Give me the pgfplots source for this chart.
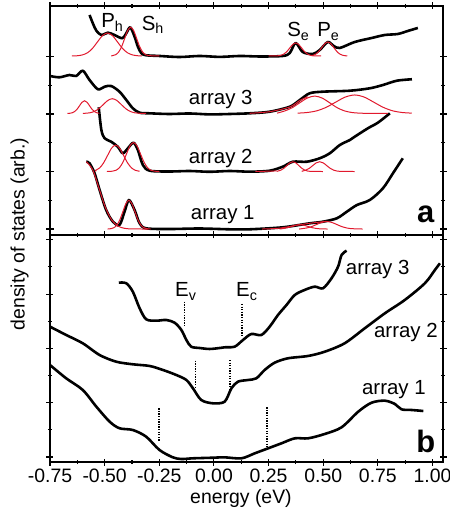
\documentclass[border=0pt]{standalone}
\usepackage{pgfplots}
\pgfplotsset{compat=1.18}
\usepackage{fontspec}
\setmainfont{Liberation Sans}
\definecolor{fitred}{RGB}{225,25,45}

\pgfplotsset{
  panel/.style={
    scale only axis, width=393bp,
    xmin=-0.75, xmax=1.048,
    xtick={-0.75,-0.5,-0.25,0,0.25,0.5,0.75,1.0},
    minor x tick num=1, minor y tick num=1,
    yticklabels={},
    tick align=center,
    major tick length=7bp, minor tick length=4bp,
    every tick/.style={black, line width=1.1pt},
    axis line style={line width=1.3pt},
    tick label style={font=\fontsize{19.5}{23}\selectfont},
    xticklabel style={/pgf/number format/fixed, /pgf/number format/fixed zerofill,
      /pgf/number format/precision=2, /pgf/number format/assume math mode=true},
  },
  dos/.style={black, line width=2.6pt, smooth, no markers, line join=round},
  fit/.style={fitred, line width=1pt, smooth, no markers},
  lev/.style={black, line width=1.7pt, dash pattern=on 1.3pt off 1.3pt, no markers},
}
\newcommand{\lbl}{\fontsize{20.5}{24}\selectfont}
\newcommand{\panelfont}{\fontsize{31}{35}\selectfont\bfseries}

\begin{document}
\begin{tikzpicture}
% ---------------- panel b (bottom)
\begin{axis}[panel, at={(0,0)}, anchor=south west, height=227bp,
  ymin=-0.092, ymax=4.088, ytick={0,1,2,3,4},
  xlabel={energy (eV)}, ylabel={density of states (arb.)},
  label style={font=\fontsize{19.5}{23}\selectfont},
  xlabel style={anchor=center, at={(axis description cs:0.486,-0.159)}},
  ylabel style={anchor=center, at={(axis description cs:-0.0776,1.004)}},
]
% array 3
\addplot[dos] coordinates {(-0.435,3.210) (-0.401,3.199) (-0.371,3.044) (-0.340,2.739) (-0.310,2.536)
  (-0.264,2.510) (-0.218,2.523) (-0.180,2.473) (-0.149,2.339) (-0.126,2.155) (-0.104,2.031)
  (-0.065,2.007) (-0.020,1.989) (0.026,2.007) (0.049,2.020) (0.095,2.032) (0.133,2.155)
  (0.171,2.265) (0.217,2.247) (0.255,2.400) (0.293,2.615) (0.332,2.799) (0.370,2.984)
  (0.415,3.076) (0.461,3.137) (0.499,3.107) (0.538,3.291) (0.568,3.505) (0.584,3.720) (0.607,3.799)};
% array 2
\addplot[dos] coordinates {(-0.75,2.400) (-0.676,2.247) (-0.600,2.094) (-0.523,1.878) (-0.447,1.755)
  (-0.371,1.707) (-0.294,1.676) (-0.233,1.602) (-0.172,1.510) (-0.126,1.418) (-0.096,1.265)
  (-0.058,1.050) (-0.005,0.989) (0.049,1.019) (0.080,1.265) (0.110,1.387) (0.156,1.418)
  (0.194,1.449) (0.232,1.602) (0.278,1.737) (0.339,1.818) (0.430,1.860) (0.507,1.939)
  (0.598,2.094) (0.690,2.370) (0.782,2.646) (0.873,2.891) (0.965,3.199) (1.011,3.444) (1.034,3.567)};
% array 1
\addplot[dos] coordinates {(-0.75,1.694) (-0.676,1.449) (-0.600,1.234) (-0.538,0.927) (-0.477,0.650)
  (-0.432,0.529) (-0.371,0.497) (-0.310,0.374) (-0.249,0.129) (-0.188,-0.006) (-0.149,-0.037)
  (-0.096,-0.024) (-0.005,-0.013) (0.049,-0.006) (0.126,-0.024) (0.187,0.068) (0.248,0.160)
  (0.309,0.252) (0.370,0.344) (0.431,0.344) (0.507,0.424) (0.584,0.547) (0.660,0.834)
  (0.721,1.000) (0.782,1.037) (0.828,0.976) (0.858,0.878) (0.904,0.866) (0.958,0.847)};
% band edges
\addplot[lev] coordinates {(-0.134,2.860) (-0.134,2.400)};
\addplot[lev] coordinates {(0.128,2.818) (0.128,2.204)};
\addplot[lev] coordinates {(-0.085,1.774) (-0.085,1.265)};
\addplot[lev] coordinates {(0.075,1.786) (0.075,1.234)};
\addplot[lev] coordinates {(-0.252,0.897) (-0.252,0.282)};
\addplot[lev] coordinates {(0.243,0.916) (0.243,0.129)};
\node[anchor=base west, inner sep=0pt, font=\lbl] at (axis cs:-0.178,2.947) {E\textsubscript{v}};
\node[anchor=base west, inner sep=0pt, font=\lbl] at (axis cs:0.101,2.947) {E\textsubscript{c}};
\node[anchor=west, inner sep=0pt, font=\lbl] at (axis cs:0.603,3.46) {array 3};
\node[anchor=west, inner sep=0pt, font=\lbl] at (axis cs:0.732,2.29) {array 2};
\node[anchor=west, inner sep=0pt, font=\lbl] at (axis cs:0.677,1.25) {array 1};
\node[anchor=base, inner sep=0pt, font=\panelfont] at (axis cs:0.969,0.092) {b};
\end{axis}

% ---------------- panel a (top)
\begin{axis}[panel, at={(0,227bp)}, anchor=south west, height=229bp,
  ymin=-0.104, ymax=3.878, ytick={0,1,2,3}, xticklabels={},
]
% top spectrum
\addplot[dos] coordinates {(-0.569,3.722) (-0.554,3.577) (-0.538,3.449) (-0.515,3.374) (-0.485,3.414)
  (-0.455,3.374) (-0.419,3.317) (-0.401,3.404) (-0.383,3.508) (-0.363,3.344) (-0.348,3.171)
  (-0.332,3.056) (-0.310,3.021) (-0.249,3.009) (-0.157,2.991) (-0.066,3.009) (0.026,2.993)
  (0.118,3.009) (0.209,3.0) (0.315,3.009) (0.347,3.061) (0.374,3.235) (0.406,3.078)
  (0.452,3.043) (0.484,3.113) (0.521,3.252) (0.548,3.183) (0.576,3.148) (0.644,3.252)
  (0.722,3.322) (0.782,3.374) (0.841,3.391) (0.887,3.444) (0.933,3.496)};
% array 3
\addplot[dos] coordinates {(-0.75,2.661) (-0.707,2.638) (-0.661,2.678) (-0.630,2.661) (-0.600,2.753)
  (-0.569,2.591) (-0.531,2.430) (-0.500,2.475) (-0.470,2.487) (-0.432,2.388) (-0.401,2.244)
  (-0.371,2.099) (-0.340,2.023) (-0.294,2.012) (-0.203,2.0) (-0.111,2.009) (-0.020,1.993)
  (0.072,2.0) (0.163,2.012) (0.255,2.040) (0.347,2.127) (0.393,2.244) (0.438,2.360)
  (0.498,2.388) (0.622,2.405) (0.713,2.447) (0.773,2.504) (0.837,2.579) (0.906,2.604)};
% array 2
\addplot[dos] coordinates {(-0.527,2.117) (-0.515,1.722) (-0.500,1.577) (-0.470,1.518) (-0.440,1.431)
  (-0.417,1.317) (-0.394,1.403) (-0.368,1.501) (-0.348,1.374) (-0.325,1.113) (-0.294,1.014)
  (-0.203,1.0) (-0.111,1.009) (-0.020,0.995) (0.072,1.009) (0.163,0.997) (0.255,1.014)
  (0.315,1.084) (0.361,1.170) (0.425,1.170) (0.484,1.230) (0.530,1.317) (0.576,1.461)
  (0.622,1.548) (0.644,1.605) (0.704,1.751) (0.750,1.849) (0.805,2.012)};
% array 1
\addplot[dos] coordinates {(-0.584,1.171) (-0.569,1.143) (-0.546,0.969) (-0.523,0.678) (-0.493,0.330)
  (-0.462,0.127) (-0.432,0.070) (-0.409,0.301) (-0.389,0.504) (-0.363,0.330) (-0.340,0.099)
  (-0.310,0.012) (-0.203,0.0) (-0.066,0.009) (0.072,-0.005) (0.163,-0.005) (0.315,0.030)
  (0.438,0.099) (0.498,0.127) (0.562,0.186) (0.608,0.301) (0.654,0.417) (0.713,0.504)
  (0.773,0.707) (0.819,0.969) (0.864,1.230)};

% fitted peaks, top spectrum
\addplot[fit] coordinates {(-0.65,3.009) (-0.625,3.013) (-0.602,3.027) (-0.579,3.063) (-0.556,3.139)
  (-0.533,3.252) (-0.510,3.362) (-0.487,3.409) (-0.464,3.362) (-0.441,3.252) (-0.418,3.139)
  (-0.395,3.063) (-0.372,3.027) (-0.349,3.013) (-0.33,3.009)};
\addplot[fit] coordinates {(-0.47,3.009) (-0.4635,3.015) (-0.4498,3.031) (-0.436,3.077) (-0.4223,3.171)
  (-0.4085,3.312) (-0.3948,3.450) (-0.381,3.509) (-0.3673,3.450) (-0.3535,3.312) (-0.3398,3.171)
  (-0.326,3.077) (-0.3123,3.031) (-0.2985,3.015) (-0.25,3.009)};
\addplot[fit] coordinates {(0.25,3.009) (0.2915,3.012) (0.3053,3.019) (0.319,3.040) (0.3328,3.082)
  (0.3465,3.146) (0.3603,3.208) (0.374,3.235) (0.3878,3.208) (0.4015,3.146) (0.4153,3.082)
  (0.429,3.040) (0.4428,3.019) (0.4565,3.012) (0.49,3.009)};
\addplot[fit] coordinates {(0.45,3.009) (0.4523,3.020) (0.466,3.042) (0.4798,3.088) (0.4935,3.156)
  (0.5073,3.223) (0.521,3.252) (0.5348,3.223) (0.5485,3.156) (0.5623,3.088) (0.576,3.042)
  (0.5898,3.020) (0.6035,3.012) (0.61,3.009)};
% fitted peaks, array 3
\addplot[fit] coordinates {(-0.67,2.01) (-0.661,2.012) (-0.6495,2.020) (-0.638,2.040) (-0.6265,2.081)
  (-0.615,2.143) (-0.6035,2.204) (-0.592,2.23) (-0.5805,2.204) (-0.569,2.143) (-0.5575,2.081)
  (-0.546,2.040) (-0.5345,2.020) (-0.524,2.012)};
\addplot[fit] coordinates {(-0.60,2.01) (-0.588,2.013) (-0.5675,2.021) (-0.547,2.045) (-0.5265,2.093)
  (-0.506,2.165) (-0.4855,2.236) (-0.465,2.266) (-0.4445,2.236) (-0.424,2.165) (-0.4035,2.093)
  (-0.383,2.045) (-0.3625,2.021) (-0.342,2.013) (-0.31,2.01)};
\addplot[fit] coordinates {(0.163,2.012) (0.255,2.040) (0.347,2.122) (0.393,2.235) (0.429,2.300)};
\addplot[fit] coordinates {(0.289,2.015) (0.324,2.053) (0.358,2.109) (0.392,2.194) (0.427,2.277)
  (0.461,2.312) (0.495,2.277) (0.530,2.194) (0.564,2.109) (0.598,2.053) (0.633,2.025)
  (0.667,2.015) (0.70,2.012) (0.796,2.012)};
\addplot[fit] coordinates {(0.383,2.015) (0.4265,2.026) (0.470,2.055) (0.5135,2.116) (0.557,2.206)
  (0.6005,2.294) (0.644,2.331) (0.6875,2.294) (0.731,2.206) (0.7745,2.116) (0.818,2.055)
  (0.8615,2.026) (0.905,2.015)};
% fitted peaks, array 2
\addplot[fit] coordinates {(-0.54,1.0) (-0.5415,1.020) (-0.523,1.062) (-0.505,1.149) (-0.4866,1.279)
  (-0.4683,1.406) (-0.450,1.46) (-0.4317,1.406) (-0.4134,1.279) (-0.395,1.149) (-0.3768,1.062)
  (-0.3585,1.020) (-0.34,1.005)};
\addplot[fit] coordinates {(-0.49,1.0) (-0.464,1.006) (-0.448,1.022) (-0.432,1.068) (-0.416,1.164)
  (-0.400,1.306) (-0.384,1.446) (-0.368,1.505) (-0.352,1.446) (-0.336,1.306) (-0.320,1.164)
  (-0.304,1.068) (-0.288,1.022) (-0.272,1.006) (-0.25,1.0)};
\addplot[fit] coordinates {(0.19,1.0) (0.24,1.005) (0.287,1.010)};
\addplot[fit] coordinates {(0.287,1.0) (0.2923,1.007) (0.306,1.023) (0.3198,1.055) (0.3335,1.103)
  (0.3473,1.150) (0.361,1.17) (0.3748,1.15) (0.3885,1.103) (0.4023,1.055) (0.416,1.023)
  (0.4298,1.007) (0.4435,1.002) (0.498,1.0)};
\addplot[fit] coordinates {(0.402,1.0) (0.404,1.007) (0.42,1.023) (0.436,1.055) (0.452,1.103)
  (0.468,1.150) (0.484,1.17) (0.5,1.15) (0.516,1.103) (0.532,1.055) (0.548,1.023)
  (0.564,1.007) (0.58,1.002) (0.644,1.0)};
% fitted peaks, array 1
\addplot[fit] coordinates {(-0.584,1.17) (-0.555,1.033) (-0.526,0.710) (-0.497,0.380) (-0.468,0.158)
  (-0.439,0.051) (-0.41,0.013) (-0.38,0.002) (-0.30,0.0)};
\addplot[fit] coordinates {(-0.486,0.0) (-0.4715,0.006) (-0.4578,0.022) (-0.444,0.068) (-0.4303,0.162)
  (-0.4165,0.303) (-0.4028,0.441) (-0.389,0.50) (-0.3753,0.441) (-0.3615,0.303) (-0.3478,0.162)
  (-0.334,0.068) (-0.3203,0.022) (-0.3065,0.006) (-0.29,0.0)};
\addplot[fit] coordinates {(0.22,0.0) (0.30,0.015) (0.393,0.075) (0.45,0.105) (0.516,0.135)};
\addplot[fit] coordinates {(0.30,0.0) (0.319,0.010) (0.3375,0.024) (0.356,0.045) (0.3745,0.066)
  (0.393,0.075) (0.4115,0.066) (0.43,0.045) (0.4485,0.024) (0.467,0.010) (0.4855,0.003) (0.52,0.0)};
\addplot[fit] coordinates {(0.39,0.0) (0.424,0.018) (0.447,0.042) (0.47,0.079) (0.493,0.115)
  (0.516,0.13) (0.539,0.115) (0.562,0.079) (0.585,0.042) (0.608,0.018) (0.631,0.006) (0.68,0.0)};

\node[anchor=base west, inner sep=0pt, font=\lbl] at (axis cs:-0.516,3.496) {P\textsubscript{h}};
\node[anchor=base west, inner sep=0pt, font=\lbl] at (axis cs:-0.331,3.46) {S\textsubscript{h}};
\node[anchor=base west, inner sep=0pt, font=\lbl] at (axis cs:0.335,3.34) {S\textsubscript{e}};
\node[anchor=base west, inner sep=0pt, font=\lbl] at (axis cs:0.472,3.34) {P\textsubscript{e}};
\node[anchor=west, inner sep=0pt, font=\lbl] at (axis cs:-0.115,2.244) {array 3};
\node[anchor=west, inner sep=0pt, font=\lbl] at (axis cs:-0.115,1.23) {array 2};
\node[anchor=west, inner sep=0pt, font=\lbl] at (axis cs:-0.106,0.244) {array 1};
\node[anchor=base, inner sep=0pt, font=\panelfont] at (axis cs:0.969,0.122) {a};
\end{axis}
\pgfresetboundingbox
\path[use as bounding box] (-50bp,-51bp) rectangle (400bp,462bp);
\end{tikzpicture}
\end{document}
